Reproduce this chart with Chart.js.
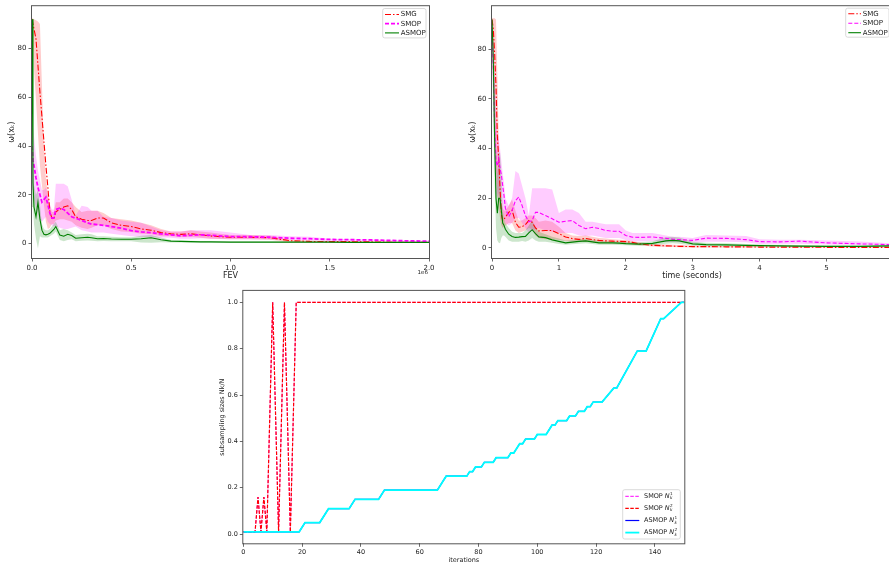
<!DOCTYPE html>
<html lang="en">
<head>
<meta charset="UTF-8">
<title>SMG / SMOP / ASMOP</title>
<script src="https://cdn.jsdelivr.net/npm/chart.js"></script>
<style>
  html, body { margin: 0; padding: 0; background: #fff; overflow: hidden; width: 889px; height: 567px; }
  .panel { position: absolute; }
  canvas { display: block; }
</style>
</head>
<body>
<div class="panel" style="left:0;top:0"><canvas id="fevChart" width="440" height="285"></canvas></div>
<div class="panel" style="left:440px;top:0"><canvas id="timeChart" width="452" height="285"></canvas></div>
<div class="panel" style="left:200px;top:285px"><canvas id="sizeChart" width="500" height="282"></canvas></div>

<script>
// ---------- panel 1 : omega(x_k) against FEV (x in units of 1e6) ----------
const fev = [0, 0.005, 0.01, 0.02, 0.03, 0.04, 0.05, 0.06, 0.07, 0.08,
  0.09, 0.1, 0.11, 0.12, 0.14, 0.16, 0.18, 0.2, 0.22, 0.25,
  0.28, 0.3, 0.33, 0.36, 0.4, 0.45, 0.5, 0.55, 0.6, 0.65,
  0.7, 0.75, 0.8, 0.85, 0.9, 1.0, 1.1, 1.2, 1.3, 1.4,
  1.5, 1.6, 1.7, 1.8, 1.9, 2.0];
const fevSmg = [92, 90, 88, 84, 73, 62, 52, 42, 32, 23,
  13, 10.5, 10, 13, 14, 15, 15.5, 14, 11, 10,
  9.5, 9.5, 10.5, 10.5, 8.5, 7.5, 7, 6, 5.5, 4.5,
  4, 3.8, 4, 3.6, 3.1, 2.6, 2.6, 2.4, 1.2, 0.9,
  0.8, 0.8, 0.7, 0.6, 0.5, 0.5];
const fevSmgHi = [92.5, 92.5, 92, 91.5, 91, 90, 65, 40, 27, 20,
  16, 13, 13, 17, 17, 18.5, 18.5, 17, 15, 13,
  13.5, 13.5, 13.5, 12.5, 10.5, 10, 9.5, 8.5, 7.5, 6,
  5, 5, 5.5, 5, 4.5, 3.5, 3.5, 3.2, 1.6, 1.3,
  1.1, 1.1, 1.0, 0.9, 0.8, 0.8];
const fevSmgLo = [91, 82, 72, 59, 45, 32, 24, 16, 9, 6,
  6.5, 8, 8, 9.5, 10, 10, 9.5, 9, 7.5, 6.5,
  6, 6.5, 7.5, 7.5, 6, 5, 4.8, 4, 3.8, 3,
  3, 2.7, 2.8, 2.4, 2, 1.8, 1.8, 1.6, 0.6, 0.5,
  0.5, 0.5, 0.4, 0.3, 0.2, 0.2];
const fevSmop = [40, 34, 32, 27, 23, 20, 17, 18, 19, 16,
  12.5, 10.5, 10.5, 14, 14.5, 14, 12.5, 11, 10.4, 9.5,
  8.5, 8, 7.8, 7.5, 7, 6.3, 5.3, 4.8, 4.5, 4,
  3.6, 3.2, 3.4, 3.6, 3.4, 2.9, 2.8, 2.6, 2.2, 2.0,
  1.7, 1.6, 1.5, 1.3, 1.1, 1.0];
const fevSmopHi = [50, 48, 44, 36, 30, 26, 22, 22, 23, 20,
  16, 14, 14, 24.5, 24.5, 24.5, 23.5, 18, 11.5, 15.5,
  15, 13.5, 13.5, 11, 10.5, 9.5, 9, 8.5, 7, 5.5,
  5, 5, 5.5, 5.5, 5.5, 4.5, 3.5, 3.5, 3, 2.8,
  2, 1.8, 1.7, 1.5, 1.3, 1.2];
const fevSmopLo = [30, 22, 18, 15, 12, 10, 9, 10, 11, 9,
  8, 7.5, 7, 7, 6.5, 6, 6, 6.5, 7, 5.5,
  5, 4.5, 4.5, 4.5, 4, 3.5, 3, 2.8, 2.5, 2.5,
  2.4, 2, 2, 2.2, 2, 1.8, 1.8, 1.7, 1.5, 1.3,
  1.2, 1.2, 1.2, 1.0, 0.9, 0.8];
const fevAsmop = [92, 25, 15, 11, 17, 10, 5.5, 3.8, 3.6, 3.8,
  4.2, 5, 5.8, 7, 3.5, 3, 3.8, 3.3, 2.2, 2.4,
  2.6, 2.4, 2.0, 2.1, 1.9, 1.8, 1.8, 2.0, 2.4, 1.6,
  1.0, 0.9, 0.8, 0.7, 0.7, 0.6, 0.6, 0.6, 0.6, 0.6,
  0.6, 0.5, 0.5, 0.5, 0.5, 0.5];
const fevAsmopHi = [92, 30, 24, 20, 22, 16, 8, 6, 5.5, 5.5,
  6, 7, 8, 9, 5.5, 6, 5.5, 4.5, 3.5, 3.8,
  4, 3.8, 3, 3, 2.8, 2.6, 2.6, 3.2, 3.5, 2.5,
  1.5, 1.3, 1.2, 1.1, 1.0, 0.9, 0.9, 0.9, 0.9, 0.9,
  0.9, 0.8, 0.8, 0.8, 0.8, 0.8];
const fevAsmopLo = [88, 15, 8, 2, -2, 3, 2.5, 2.5, 2.5, 2.5,
  3, 3.5, 4, 5, 1.5, 1, 1.5, 1.8, 1, 1.2,
  1.3, 1.2, 1, 1.1, 1, 1, 1, 0.5, 0.3, 0.6,
  0.5, 0.5, 0.4, 0.4, 0.4, 0.3, 0.3, 0.3, 0.3, 0.3,
  0.3, 0.2, 0.2, 0.2, 0.2, 0.2];
const fevXTicks = [0, 0.5, 1.0, 1.5, 2.0];
const omegaYTicks = [0, 20, 40, 60, 80];

// ---------- panel 2 : omega(x_k) against time (seconds) ----------
const secs = [0, 0.02, 0.04, 0.06, 0.08, 0.1, 0.12, 0.14, 0.16, 0.18,
  0.2, 0.25, 0.3, 0.35, 0.4, 0.45, 0.5, 0.55, 0.6, 0.65,
  0.7, 0.8, 0.9, 1.0, 1.1, 1.2, 1.3, 1.4, 1.5, 1.6,
  1.7, 1.8, 1.9, 2.0, 2.1, 2.2, 2.4, 2.6, 2.7, 2.8,
  3.0, 3.2, 3.5, 3.8, 4.0, 4.3, 4.6, 5.0, 5.5, 5.95];
const secSmg = [92, 88, 78, 65, 45, 36, 24, 13.6, 11, 11.5,
  12.3, 14.3, 15.2, 10.3, 8.3, 8.5, 9.4, 11, 10.3, 8,
  6.8, 7, 7, 5.7, 4.4, 3.7, 3.4, 3.8, 3.3, 3,
  2.8, 2.7, 2.6, 2.5, 2.2, 1.6, 1.0, 0.8, 0.7, 0.6,
  0.5, 0.5, 0.4, 0.4, 0.3, 0.3, 0.3, 0.2, 0.2, 0.2];
const secSmgHi = [92.5, 92.5, 92.5, 92, 70, 45, 28, 18, 16, 15,
  15, 17, 19.5, 15, 11, 11, 12, 13, 13, 12,
  10.5, 11, 10.5, 8.5, 6, 5, 4.8, 5, 4.5, 4,
  3.8, 3.5, 3.3, 3.2, 2.8, 2.2, 1.6, 1.3, 1.2, 1.1,
  0.9, 0.9, 0.8, 0.7, 0.6, 0.6, 0.6, 0.5, 0.5, 0.5];
const secSmgLo = [85, 70, 48, 32, 22, 16, 12, 9, 8, 8.5,
  9, 10, 10, 7, 6, 6.5, 7, 8, 7.5, 5,
  4, 3.5, 3.5, 3.2, 2.8, 2.5, 2.3, 2.5, 2.2, 2,
  1.9, 1.8, 1.8, 1.7, 1.4, 1.0, 0.5, 0.3, 0.3, 0.2,
  0.1, 0.1, 0.1, 0.1, 0.1, 0.1, 0, 0, 0, 0];
const secSmop = [88, 72, 48, 35, 33, 36, 32, 29.5, 25, 21,
  16, 12.5, 15, 19, 20.5, 17, 13, 10.5, 11, 14.3,
  14.3, 13, 11.7, 10.3, 10.7, 11, 9, 7.7, 8.3, 7.8,
  7, 6.7, 6.7, 5, 4.3, 4.2, 4.4, 3.8, 3.5, 3.3,
  3, 3.9, 3.8, 3.3, 2.5, 2.4, 2.7, 2, 1.6, 1.3];
const secSmopHi = [90, 85, 70, 55, 46, 45, 40, 35, 30, 26,
  20, 17, 20, 31, 30, 25, 20, 13, 24, 24,
  24, 24, 23.5, 14, 15.5, 15.5, 14, 10.5, 10.5, 10,
  9.5, 9.5, 9.5, 7, 6, 6, 6, 5, 4.5, 4.5,
  4, 5.2, 5, 4.8, 3.5, 3.3, 3.3, 3, 2.6, 1.8];
const secSmopLo = [80, 55, 32, 22, 20, 22, 20, 17, 14, 12,
  10, 9, 10, 12, 12, 10, 8, 6, 7, 7.5,
  8, 7, 6.5, 6, 6, 6, 5, 4.8, 5, 4.5,
  4, 4, 4, 3.2, 2.7, 2.6, 2.8, 2.3, 2.3, 2.2,
  2, 2.5, 2.4, 2.2, 1.5, 1.6, 1.6, 1.3, 1.1, 0.9];
const secAsmop = [92, 75, 43, 20, 14, 20, 20, 15, 10, 9,
  7.5, 5.5, 4.6, 4.2, 4.3, 4.5, 4.6, 6, 7.3, 5.7,
  4.4, 4.1, 3.2, 2.6, 2, 2.3, 2.6, 2.8, 2.4, 2,
  2, 2, 1.9, 1.7, 1.6, 1.5, 1.8, 2.8, 3, 2.8,
  1.6, 1.3, 1.2, 1.0, 0.9, 0.8, 0.7, 0.6, 0.6, 0.8];
const secAsmopHi = [93, 90, 65, 40, 30, 38, 38.5, 30, 15, 12,
  10, 8, 6.5, 6, 6, 6, 7, 9, 11, 8.5,
  6.5, 5.5, 4.5, 3.8, 3, 3.2, 3.5, 3.8, 3.3, 3,
  2.8, 2.8, 2.6, 2.5, 2.3, 2.2, 2.7, 4.3, 4.5, 4.2,
  2.4, 2, 1.8, 1.5, 1.3, 1.2, 1.1, 1.0, 1.0, 1.2];
const secAsmopLo = [85, 55, 25, 8, 3, 2, 1.8, 4, 5, 5,
  4.5, 3, 2.5, 2.5, 2.5, 2.8, 2.5, 3, 4, 3,
  2.5, 2.5, 2, 1.5, 1.2, 1.4, 1.6, 1.8, 1.5, 1.2,
  1.2, 1.2, 1.1, 1.0, 0.9, 0.8, 1.0, 1.6, 1.8, 1.6,
  0.9, 0.7, 0.6, 0.5, 0.4, 0.4, 0.3, 0.3, 0.3, 0.4];
const secXTicks = [0, 1, 2, 3, 4, 5];

// ---------- panel 3 : subsampling sizes Nk/N against iterations ----------
const smopIters = [0, 4, 5, 6, 7, 8, 10, 12, 14, 16, 18, 150];
const smopN1 = [0.01, 0.01, 0.16, 0.01, 0.16, 0.01, 1.0, 0.01, 1.0, 0.01, 1.0, 1.0];
const smopN2 = [0.01, 0.01, 0.16, 0.01, 0.16, 0.01, 1.0, 0.01, 1.0, 0.01, 1.0, 1.0];
const asmopIters = [0, 19, 21, 26, 29, 36, 38, 46, 48, 66,
  69, 76, 77, 78, 79, 81, 82, 85, 86, 90,
  91, 92, 94, 95, 96, 99, 100, 103, 105, 106,
  107, 110, 111, 113, 114, 116, 117, 118, 119, 122,
  126, 127, 134, 137, 142, 143, 149, 150];
const asmopN1 = [0.01, 0.01, 0.05, 0.05, 0.11, 0.11, 0.15, 0.15, 0.19, 0.19,
  0.25, 0.25, 0.27, 0.27, 0.29, 0.29, 0.31, 0.31, 0.33, 0.33,
  0.35, 0.35, 0.39, 0.39, 0.41, 0.41, 0.43, 0.43, 0.47, 0.47,
  0.49, 0.49, 0.51, 0.51, 0.53, 0.53, 0.55, 0.55, 0.57, 0.57,
  0.63, 0.63, 0.79, 0.79, 0.93, 0.93, 1.0, 1.0];
const asmopN2 = asmopN1.slice();
const iterXTicks = [0, 20, 40, 60, 80, 100, 120, 140];
const sizeYTicks = [0, 0.2, 0.4, 0.6, 0.8, 1.0];

const methodNames = ['SMG', 'SMOP', 'ASMOP'];
const sizeNames = ['SMOP N_k^1', 'SMOP N_k^2', 'ASMOP N_k^1', 'ASMOP N_k^2'];

// ---------- helpers ----------
const FONT = 'DejaVu Sans';
const pts = (xs, ys) => xs.map((x, i) => ({ x: x, y: ys[i] }));

function band(xs, ys, color, fillTo) {
  return { data: pts(xs, ys), borderWidth: 0, pointRadius: 0, backgroundColor: color, fill: fillTo };
}
function line(xs, ys, color, width, dash) {
  return { data: pts(xs, ys), borderColor: color, borderWidth: width, borderDash: dash, pointRadius: 0, fill: false };
}

// label like "SMOP N_k^1" -> "SMOP " + italic N with stacked k / 1
function drawLabel(ctx, label, x, y, size) {
  const m = label.match(/^(.*?)(\S)_(\S)\^(\S)$/);
  ctx.textBaseline = 'middle';
  ctx.textAlign = 'left';
  ctx.font = size + 'px "' + FONT + '"';
  if (!m) { ctx.fillText(label, x, y); return; }
  ctx.fillText(m[1], x, y);
  x += ctx.measureText(m[1]).width;
  ctx.font = 'italic ' + size + 'px "' + FONT + '"';
  ctx.fillText(m[2], x, y);
  x += ctx.measureText(m[2]).width;
  ctx.font = 'italic ' + (size * 0.65) + 'px "' + FONT + '"';
  ctx.fillText(m[3], x + 0.3, y + size * 0.3);
  ctx.font = (size * 0.65) + 'px "' + FONT + '"';
  ctx.fillText(m[4], x + 0.3, y - size * 0.35);
}

const decor = {
  id: 'decor',
  afterDatasetsDraw(chart, args, opts) {
    const { ctx, chartArea: a } = chart;
    ctx.save();
    ctx.strokeStyle = '#555';
    ctx.lineWidth = 1;
    ctx.strokeRect(a.left - 0.5, a.top - 0.5, a.right - a.left + 1, a.bottom - a.top + 1);

    const L = opts.legend;
    if (L) {
      const bx = a.right - L.right - L.w;
      const by = L.bottom != null ? a.bottom - L.bottom - L.h : a.top + L.top;
      ctx.fillStyle = 'rgba(255,255,255,0.85)';
      ctx.strokeStyle = '#d0d0d0';
      ctx.lineWidth = 0.8;
      ctx.beginPath();
      ctx.roundRect(bx, by, L.w, L.h, 2);
      ctx.fill();
      ctx.stroke();
      L.items.forEach((it, i) => {
        const ds = chart.data.datasets[it.ds];
        const cy = by + L.row0 + i * L.gap;
        ctx.strokeStyle = ds.borderColor;
        ctx.lineWidth = ds.borderWidth;
        ctx.setLineDash(ds.borderDash || []);
        ctx.beginPath();
        ctx.moveTo(bx + L.lx0, cy);
        ctx.lineTo(bx + L.lx1, cy);
        ctx.stroke();
        ctx.setLineDash([]);
        ctx.fillStyle = '#222';
        drawLabel(ctx, it.label, bx + L.tx, cy, L.size);
      });
    }
    if (opts.offsetText) {
      ctx.fillStyle = '#222';
      ctx.font = '5.5px "' + FONT + '"';
      ctx.textAlign = 'right';
      ctx.textBaseline = 'middle';
      ctx.fillText(opts.offsetText, a.right - 1, a.bottom + 15);
    }
    ctx.restore();
  }
};

function axis(o) {
  return {
    type: 'linear',
    min: o.min, max: o.max,
    afterBuildTicks: s => { s.ticks = o.ticks.map(v => ({ value: v })); },
    afterFit: s => { if (o.width != null) s.width = o.width; if (o.height != null) s.height = o.height; },
    grid: { display: true, drawOnChartArea: false, drawTicks: true, tickLength: 3.5, color: '#444', lineWidth: 0.8 },
    border: { display: false },
    ticks: { font: { family: FONT, size: o.tickSize }, color: '#222', padding: o.tickPad, maxRotation: 0, autoSkip: false, callback: o.fmt },
    title: { display: true, text: o.title, color: '#222', font: { family: FONT, size: o.titleSize }, padding: o.titlePad }
  };
}

function makeChart(id, datasets, layoutPad, xAxis, yAxis, decorOpts) {
  // later datasets are drawn on top, as in the original figure
  datasets.forEach((d, i) => { d.order = datasets.length - i; });
  return new Chart(document.getElementById(id), {
    type: 'line',
    data: { datasets: datasets },
    options: {
      responsive: false,
      animation: false,
      devicePixelRatio: 1,
      layout: { padding: layoutPad },
      plugins: { legend: { display: false }, tooltip: { enabled: false }, decor: decorOpts },
      scales: { x: xAxis, y: yAxis }
    },
    plugins: [decor]
  });
}

const RED = '#ff0000', MAG = '#ff00ff', GRN = '#008000';
const RED_A = 'rgba(255,0,0,0.2)', MAG_A = 'rgba(255,0,255,0.2)', GRN_A = 'rgba(0,128,0,0.2)';
const DASHDOT = [6, 2, 1.5, 2];

// ---------- panel 1 ----------
makeChart('fevChart', [
  band(fev, fevSmgHi, RED_A, '+1'), band(fev, fevSmgLo, RED_A, false),
  band(fev, fevSmopHi, MAG_A, '+1'), band(fev, fevSmopLo, MAG_A, false),
  band(fev, fevAsmopHi, GRN_A, '+1'), band(fev, fevAsmopLo, GRN_A, false),
  line(fev, fevSmg, RED, 1.1, DASHDOT),
  line(fev, fevSmop, MAG, 1.8, [4, 2]),
  line(fev, fevAsmop, GRN, 1.1, [])
], { left: 0, right: 11, top: 6, bottom: 0 },
  axis({ min: 0, max: 2.0, ticks: fevXTicks, height: 27, tickSize: 7, tickPad: 2, fmt: v => v.toFixed(1),
    title: 'FEV', titleSize: 8, titlePad: { top: 0, bottom: 4 } }),
  axis({ min: -5.9, max: 97.3, ticks: omegaYTicks, width: 32, tickSize: 7, tickPad: 2, fmt: v => String(v),
    title: 'ω(xₖ)', titleSize: 8, titlePad: { top: 7, bottom: 0 } }),
  { offsetText: '1e6',
    legend: { right: 3, top: 2.3, w: 43.3, h: 29.4, row0: 6, gap: 9.2, lx0: 2.3, lx1: 16.3, tx: 18, size: 7,
      items: methodNames.map((n, i) => ({ label: n, ds: 6 + i })) } });

// ---------- panel 2 ----------
makeChart('timeChart', [
  band(secs, secSmgHi, RED_A, '+1'), band(secs, secSmgLo, RED_A, false),
  band(secs, secSmopHi, MAG_A, '+1'), band(secs, secSmopLo, MAG_A, false),
  band(secs, secAsmopHi, GRN_A, '+1'), band(secs, secAsmopLo, GRN_A, false),
  line(secs, secSmg, RED, 1.1, DASHDOT),
  line(secs, secSmop, MAG, 1.1, [4, 2]),
  line(secs, secAsmop, GRN, 1.1, [])
], { left: 20, right: 0, top: 3, bottom: 0 },
  axis({ min: 0, max: 5.98, ticks: secXTicks, height: 27, tickSize: 7, tickPad: 2, fmt: v => String(v),
    title: 'time (seconds)', titleSize: 8, titlePad: { top: 0, bottom: 4 } }),
  axis({ min: -4.1, max: 97.4, ticks: omegaYTicks, width: 32, tickSize: 7, tickPad: 2, fmt: v => String(v),
    title: 'ω(xₖ)', titleSize: 8, titlePad: { top: 8, bottom: 0 } }),
  { legend: { right: 3, top: 2, w: 43.3, h: 29, row0: 5.5, gap: 9.5, lx0: 2.6, lx1: 15.3, tx: 17, size: 7,
      items: methodNames.map((n, i) => ({ label: n, ds: 6 + i })) } });

// ---------- panel 3 ----------
makeChart('sizeChart', [
  line(smopIters, smopN1, MAG, 1, [3.5, 1.5]),
  line(smopIters, smopN2, RED, 1.2, [3.5, 1.5]),
  line(asmopIters, asmopN1, '#0000ff', 1.2, []),
  line(asmopIters, asmopN2, '#00ffff', 1.8, [])
], { left: 0, right: 15.7, top: 4.3, bottom: 0 },
  axis({ min: 0, max: 150, ticks: iterXTicks, height: 23.7, tickSize: 6.5, tickPad: 1.5, fmt: v => String(v),
    title: 'iterations', titleSize: 6.5, titlePad: { top: 0, bottom: 3 } }),
  axis({ min: -0.0395, max: 1.0495, ticks: sizeYTicks, width: 43.3, tickSize: 6.5, tickPad: 2, fmt: v => v.toFixed(1),
    title: 'subsampling sizes Nk/N', titleSize: 6.5, titlePad: { top: 18, bottom: 0 } }),
  { legend: { right: 4, bottom: 4.3, w: 57.6, h: 49.3, row0: 6.6, gap: 12.1, lx0: 2.6, lx1: 16.6, tx: 21.3, size: 6.5,
      items: sizeNames.map((n, i) => ({ label: n, ds: i })) } });
</script>
</body>
</html>
